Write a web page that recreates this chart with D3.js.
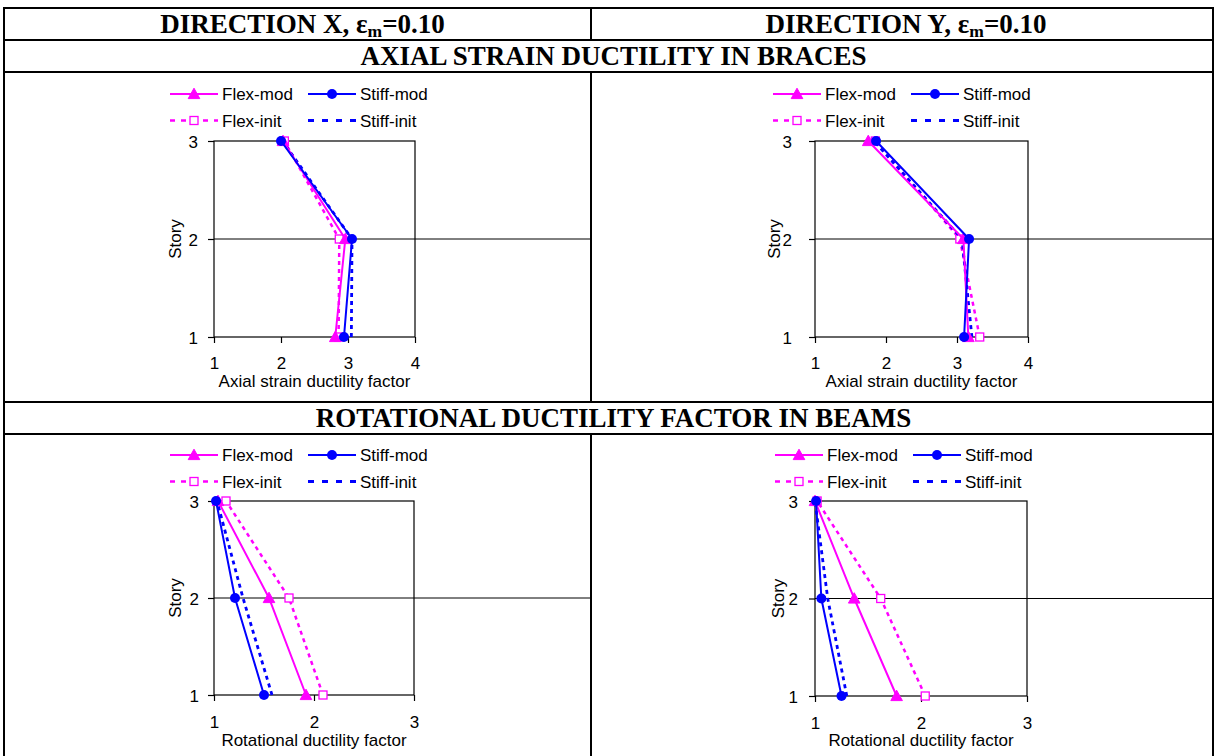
<!DOCTYPE html>
<html>
<head>
<meta charset="utf-8">
<script src="https://cdn.jsdelivr.net/npm/d3@7"></script>
<style>
  html, body { margin: 0; padding: 0; background: #fff; }
  svg { display: block; }
</style>
</head>
<body>
<svg id="chart" width="1216" height="756"></svg>
<script>
// ---- Data: ductility demand per story (stories 1, 2, 3) ----
const storyLevels = [1, 2, 3];
const braceTicks = [1, 2, 3, 4];
const beamTicks = [1, 2, 3];
const storyTicks = [1, 2, 3];
const seriesLabels = ["Flex-mod", "Stiff-mod", "Flex-init", "Stiff-init"];

// Axial strain ductility in braces, direction X
const braceXFlexMod   = [2.81, 2.96, 2.03];
const braceXStiffMod  = [2.94, 3.06, 2.00];
const braceXFlexInit  = [2.86, 2.87, 2.05];
const braceXStiffInit = [3.05, 3.06, 2.02];

// Axial strain ductility in braces, direction Y
const braceYFlexMod   = [3.16, 3.09, 1.75];
const braceYStiffMod  = [3.10, 3.17, 1.86];
const braceYFlexInit  = [3.32, 3.04, 1.85];
const braceYStiffInit = [3.21, 3.07, 1.83];

// Rotational ductility in beams, direction X
const beamXFlexMod   = [1.92, 1.55, 1.04];
const beamXStiffMod  = [1.50, 1.21, 1.02];
const beamXFlexInit  = [2.09, 1.75, 1.12];
const beamXStiffInit = [1.58, 1.29, 1.03];

// Rotational ductility in beams, direction Y
const beamYFlexMod   = [1.77, 1.37, 1.00];
const beamYStiffMod  = [1.25, 1.06, 1.01];
const beamYFlexInit  = [2.04, 1.62, 1.02];
const beamYStiffInit = [1.30, 1.12, 1.00];

// ---- Text ----
const directionTitles = ["DIRECTION X, ", "DIRECTION Y, "];
const strainSymbol = "ε";
const strainSub = "m";
const strainValue = "=0.10";
const sectionTitles = ["AXIAL STRAIN DUCTILITY IN BRACES", "ROTATIONAL DUCTILITY FACTOR IN BEAMS"];
const axisTitles = ["Axial strain ductility factor", "Rotational ductility factor"];
const storyTitle = "Story";

// ---- Styling ----
const MAGENTA = "#ff00ff";
const BLUE = "#0000ff";
const SANS = "'Liberation Sans', Arial, sans-serif";
const SERIF = "'Liberation Serif', 'Times New Roman', serif";

const seriesStyles = [
  { color: MAGENTA, dash: null, width: 2, marker: "triangle" },
  { color: BLUE, dash: null, width: 2, marker: "circle" },
  { color: MAGENTA, dash: "4,4", width: 2.5, marker: "square" },
  { color: BLUE, dash: "4,4", width: 2.8, marker: null }
];
const legendDash = [null, null, "5,6", "6,8"];

const svg = d3.select("#chart");

// ---- Table frame ----
const T = { left: 4, right: 1213, mid: 591, rows: [8, 40, 72, 402, 434], bottom: 756 };
const frame = svg.append("g").attr("stroke", "#000").attr("stroke-width", 2).attr("fill", "none");
T.rows.forEach(y => frame.append("line").attr("x1", T.left - 1).attr("x2", T.right + 1).attr("y1", y).attr("y2", y));
frame.append("line").attr("x1", T.left).attr("x2", T.left).attr("y1", T.rows[0]).attr("y2", T.bottom);
frame.append("line").attr("x1", T.right).attr("x2", T.right).attr("y1", T.rows[0]).attr("y2", T.bottom);
[[T.rows[0], T.rows[1]], [T.rows[2], T.rows[3]], [T.rows[4], T.bottom]].forEach(([a, b]) =>
  frame.append("line").attr("x1", T.mid).attr("x2", T.mid).attr("y1", a).attr("y2", b));

// Column headers
[[(T.left + T.mid) / 2 + 5, 0], [(T.mid + T.right) / 2 + 4, 1]].forEach(([cx, i]) => {
  const t = svg.append("text").attr("x", cx).attr("y", 33)
    .attr("text-anchor", "middle").attr("font-family", SERIF)
    .attr("font-weight", "bold").attr("font-size", 27);
  t.append("tspan").text(directionTitles[i] + strainSymbol);
  t.append("tspan").attr("font-size", 17.5).attr("dy", 4).text(strainSub);
  t.append("tspan").attr("dy", -4).text(strainValue);
});

// Section headers
[[65, 0], [427, 1]].forEach(([y, i]) => {
  svg.append("text").attr("x", (T.left + T.right) / 2 + 5).attr("y", y)
    .attr("text-anchor", "middle").attr("font-family", SERIF)
    .attr("font-weight", "bold").attr("font-size", 27).text(sectionTitles[i]);
});

// ---- Panels ----
const panels = [
  { x0: 214, x1: 415, y0: 141, y1: 337, ticks: braceTicks, cellRight: T.mid,
    legX: 170, legY: 94, storyX: 181, tickGap: 16, title: axisTitles[0], titleY: 387, tickY: 369,
    series: [braceXFlexMod, braceXStiffMod, braceXFlexInit, braceXStiffInit] },
  { x0: 815, x1: 1028, y0: 141, y1: 337, ticks: braceTicks, cellRight: T.right,
    legX: 773, legY: 94, storyX: 780, tickGap: 23, title: axisTitles[0], titleY: 387, tickY: 369,
    series: [braceYFlexMod, braceYStiffMod, braceYFlexInit, braceYStiffInit] },
  { x0: 214, x1: 414, y0: 501, y1: 695, ticks: beamTicks, cellRight: T.mid,
    legX: 170, legY: 455, storyX: 181, tickGap: 15, title: axisTitles[1], titleY: 746, tickY: 728,
    series: [beamXFlexMod, beamXStiffMod, beamXFlexInit, beamXStiffInit] },
  { x0: 815, x1: 1027, y0: 501, y1: 696, ticks: beamTicks, cellRight: T.right,
    legX: 775, legY: 455, storyX: 784, tickGap: 17, title: axisTitles[1], titleY: 746, tickY: 729,
    series: [beamYFlexMod, beamYStiffMod, beamYFlexInit, beamYStiffInit] }
];

function drawMarker(g, type, x, y, color) {
  if (type === "triangle") {
    g.append("path").attr("d", `M${x},${y - 5.8}L${x + 5.8},${y + 4.6}L${x - 5.8},${y + 4.6}Z`)
      .attr("fill", color).attr("stroke", color).attr("stroke-width", 1);
  } else if (type === "circle") {
    g.append("circle").attr("cx", x).attr("cy", y).attr("r", 5).attr("fill", color);
  } else if (type === "square") {
    g.append("rect").attr("x", x - 4).attr("y", y - 4).attr("width", 8).attr("height", 8)
      .attr("fill", "#fff").attr("stroke", color).attr("stroke-width", 1.3);
  }
}

panels.forEach(p => {
  const xMax = p.ticks[p.ticks.length - 1];
  const x = d3.scaleLinear().domain([1, xMax]).range([p.x0, p.x1]);
  const y = d3.scaleLinear().domain([1, 3]).range([p.y1, p.y0]);
  const g = svg.append("g");

  // gridline at the middle story runs to the cell edge
  g.append("line").attr("x1", p.x0).attr("x2", p.cellRight - 1)
    .attr("y1", y(2)).attr("y2", y(2)).attr("stroke", "#000").attr("stroke-width", 1);

  // plot box
  g.append("rect").attr("x", p.x0).attr("y", p.y0)
    .attr("width", p.x1 - p.x0).attr("height", p.y1 - p.y0)
    .attr("fill", "none").attr("stroke", "#000").attr("stroke-width", 1.2);

  // axes
  const xAxis = d3.axisBottom(x).tickValues(p.ticks).tickFormat(d3.format("d"))
    .tickSizeOuter(0).tickSizeInner(6).tickPadding(0);
  const gx = g.append("g").attr("transform", `translate(0,${p.y1})`).call(xAxis);
  gx.select(".domain").remove();
  gx.selectAll(".tick line").attr("stroke", "#000").attr("stroke-width", 1.2);
  gx.selectAll(".tick text").attr("y", p.tickY - p.y1).attr("dy", null)
    .attr("font-family", SANS).attr("font-size", 17).attr("fill", "#000");

  const yAxis = d3.axisLeft(y).tickValues(storyTicks).tickFormat(d3.format("d"))
    .tickSizeOuter(0).tickSizeInner(6).tickPadding(p.tickGap - 6);
  const gy = g.append("g").attr("transform", `translate(${p.x0},0)`).call(yAxis);
  gy.select(".domain").remove();
  gy.selectAll(".tick line").attr("stroke", "#000").attr("stroke-width", 1.2);
  gy.selectAll(".tick text").attr("dy", "0.36em")
    .attr("font-family", SANS).attr("font-size", 17).attr("fill", "#000");

  // axis titles
  g.append("text").attr("x", (p.x0 + p.x1) / 2).attr("y", p.titleY)
    .attr("text-anchor", "middle").attr("font-family", SANS).attr("font-size", 17)
    .text(p.title);
  g.append("text").attr("transform", `translate(${p.storyX},${y(2)}) rotate(-90)`)
    .attr("text-anchor", "middle").attr("font-family", SANS).attr("font-size", 17)
    .text(storyTitle);

  // series: initial designs underneath, modified designs on top
  const line = d3.line().x(d => x(d[0])).y(d => y(d[1]));
  [2, 3, 0, 1].forEach(si => {
    const st = seriesStyles[si];
    const pts = p.series[si].map((v, k) => [v, storyLevels[k]]);
    g.append("path").attr("d", line(pts)).attr("fill", "none")
      .attr("stroke", st.color).attr("stroke-width", st.width)
      .attr("stroke-dasharray", st.dash);
    pts.forEach(d => drawMarker(g, st.marker, x(d[0]), y(d[1]), st.color));
  });

  // legend (2 x 2)
  const cols = [p.legX, p.legX + 138];
  const rows = [p.legY, p.legY + 26.5];
  seriesLabels.forEach((lab, si) => {
    const st = seriesStyles[si];
    const lx = cols[si % 2], ly = rows[Math.floor(si / 2)];
    g.append("line").attr("x1", lx).attr("x2", lx + 48).attr("y1", ly).attr("y2", ly)
      .attr("stroke", st.color).attr("stroke-width", si === 3 ? 3 : (si === 2 ? 2.5 : 2))
      .attr("stroke-dasharray", legendDash[si]);
    drawMarker(g, st.marker, lx + 24, ly, st.color);
    g.append("text").attr("x", lx + 52).attr("y", ly + 6)
      .attr("font-family", SANS).attr("font-size", 17).text(lab);
  });
});
</script>
</body>
</html>
